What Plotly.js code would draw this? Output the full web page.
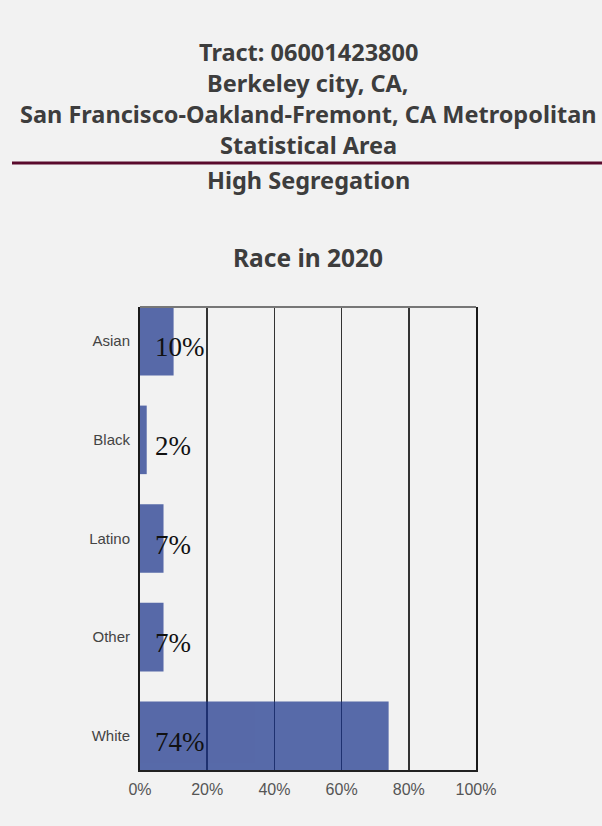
<!DOCTYPE html>
<html>
<head>
<meta charset="utf-8">
<script src="https://cdn.plot.ly/plotly-3.0.1.min.js"></script>
<style>html,body{margin:0;padding:0;background:#f2f2f2;}#chart{width:602px;height:826px;}</style>
</head>
<body>
<div id="chart"></div>
<script>
const categories = ["Asian", "Black", "Latino", "Other", "White"];
const shares = [0.10, 0.02, 0.07, 0.07, 0.74];
const valueLabels = ["10%", "2%", "7%", "7%", "74%"];
const titleLines = ["Tract: 06001423800", "Berkeley city, CA,", "San Francisco-Oakland-Fremont, CA Metropolitan", "Statistical Area"];
const subtitleText = "High Segregation";
const chartTitle = "Race in 2020";
const xTickVals = [0, 0.2, 0.4, 0.6, 0.8, 1.0];
const xTickText = ["0%", "20%", "40%", "60%", "80%", "100%"];

const plotTop = 307, plotBottom = 770, plotH = plotBottom - plotTop;
const py = p => (plotBottom - p) / plotH;

const titleFont = {family: "Noto Sans, Open Sans, sans-serif", size: 23.5, color: "#3d3d3d", weight: 700};
const lineYs = [52, 83, 114, 145];
const annotations = [];
titleLines.forEach((t, i) => annotations.push({
  text: t, xref: "paper", yref: "paper", x: 0.5, y: py(lineYs[i]), xanchor: "center", yanchor: "middle",
  showarrow: false, font: titleFont
}));
annotations.push({text: subtitleText, xref: "paper", yref: "paper", x: 0.5, y: py(180), xanchor: "center", yanchor: "middle", showarrow: false, font: titleFont});
annotations.push({text: chartTitle, xref: "paper", yref: "paper", x: 0.5, y: py(257), xanchor: "center", yanchor: "middle", showarrow: false,
  font: {family: "Noto Sans, Open Sans, sans-serif", size: 24.5, color: "#3d3d3d", weight: 700}});
categories.forEach((c, i) => annotations.push({
  text: valueLabels[i], xref: "x", yref: "y", x: 0, y: c, xanchor: "left", yanchor: "middle",
  xshift: 13, yshift: -6, showarrow: false,
  font: {family: "Liberation Serif, DejaVu Serif, serif", size: 27, color: "#111"}
}));

const data = [{
  type: "bar", orientation: "h", x: shares, y: categories,
  marker: {color: "rgb(22,48,138)", line: {width: 0}}, opacity: 0.7,
  width: 0.695, hoverinfo: "skip"
}];

const layout = {
  width: 602, height: 826,
  paper_bgcolor: "#f2f2f2", plot_bgcolor: "#f2f2f2",
  margin: {l: 140, r: 126, t: plotTop, b: 826 - plotBottom, pad: 0},
  showlegend: false,
  xaxis: {
    range: [0, 1], tickvals: xTickVals, ticktext: xTickText,
    showgrid: true, gridcolor: "#333", gridwidth: 1.5,
    showline: true, linecolor: "#222", linewidth: 2, zeroline: false,
    ticks: "", tickfont: {family: "Liberation Sans, Arial, sans-serif", size: 16, color: "#555"}, ticklabelstandoff: 4
  },
  yaxis: {
    type: "category", autorange: false, range: [4.347, -0.347],
    showgrid: false, showline: true, mirror: true, linecolor: "#1a1a1a", linewidth: 2, zeroline: false,
    ticks: "", tickfont: {family: "Liberation Sans, Arial, sans-serif", size: 15, color: "#444"}, ticklabelstandoff: 5
  },
  shapes: [
    {type: "line", xref: "paper", yref: "paper", x0: 0, x1: 1, y0: 1, y1: 1, line: {color: "#777", width: 2}},
    {type: "line", xref: "paper", yref: "paper", x0: -128/336, x1: 462/336, y0: py(163), y1: py(163), line: {color: "#5a0a2c", width: 3}}
  ],
  annotations: annotations
};

Plotly.newPlot("chart", data, layout, {displayModeBar: false, staticPlot: true});
</script>
</body>
</html>
